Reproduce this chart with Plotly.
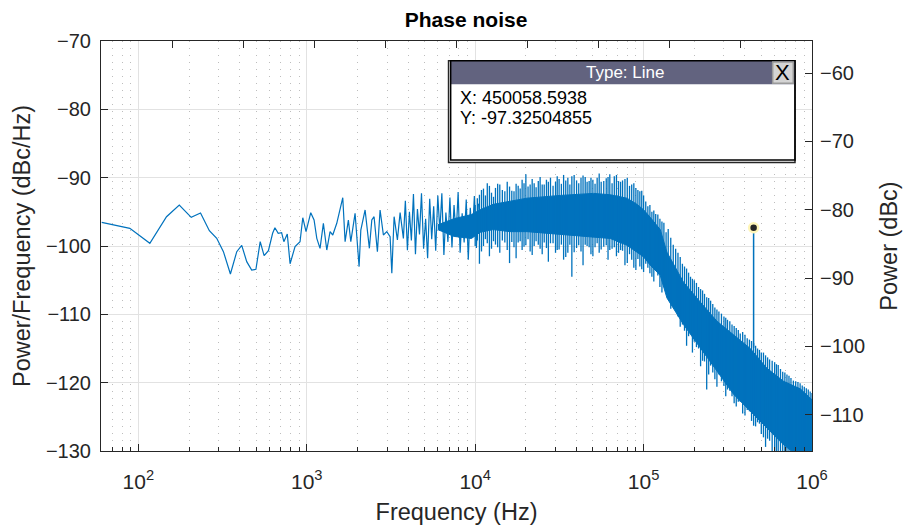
import plotly.graph_objects as go

# ---- spectrum, low-frequency part (individual bins, Hz / dBc/Hz) ----
low_f = [60.6, 89, 117, 147, 175, 206, 234, 264, 292, 320, 352, 384, 411, 440, 471, 499,
         529, 558, 592, 627, 647, 677, 709, 731, 766, 796, 852, 912, 947, 990, 1056, 1105,
         1147, 1199, 1255, 1315, 1375, 1427, 1507, 1636, 1689, 1766, 1826, 1936, 2045, 2094,
         2220, 2354, 2433, 2510, 2627, 2725, 2851, 2987, 3125, 3199, 3301, 3453, 3583, 3748,
         3850, 3960, 4070, 4180, 4300, 4420, 4540, 4670, 4800, 4940, 5080, 5220, 5370, 5520,
         5670, 5830, 6000, 6170, 6340, 6520, 6700, 6890, 7080, 7280, 7490, 7700, 7920, 8140,
         8370, 8600, 8850, 9100, 9350, 9620, 9890, 10170, 10450]
low_db = [-96.53, -97.41, -99.61, -95.71, -94.00, -95.80, -95.17, -97.76, -98.88, -100.83,
          -104.10, -100.83, -99.90, -102.29, -103.51, -103.41, -99.37, -101.42, -100.69, -98.14,
          -97.32, -98.14, -98.05, -99.37, -98.24, -102.6, -100.10, -99.37, -95.86, -97.90,
          -95.12, -96.20, -98.88, -100.34, -96.68, -100.59, -97.90, -98.39, -96.68, -92.93,
          -99.37, -96.20, -99.37, -95.22, -103.02, -97.66, -94.73, -100.34, -96.20, -95.71,
          -100.83, -94.73, -98.39, -97.90, -98.64, -104.00, -95.71, -99.12, -95.12, -98.88,
          -93.4, -100.6, -95.0, -99.2, -92.4, -101.2, -94.6, -98.3, -92.3, -100.4,
          -96.0, -101.8, -93.1, -99.0, -94.2, -100.7, -92.6, -97.8, -92.3, -101.3,
          -95.1, -99.4, -92.9, -100.2, -94.0, -98.6, -92.1, -101.0, -95.2, -99.5,
          -93.2, -102.0, -94.4, -98.7, -92.7, -100.3, -93.8]

# ---- dense part: solid core of the noise band ----
band_f = [6000, 7500, 9500, 10700, 12800, 16100, 20300, 32000, 50400, 63400, 79600,
          91300, 100000, 109500, 125600, 137600, 172700, 217000, 272700, 342200, 430000,
          540300, 678500, 852000, 1000000]
band_top = [-96.9, -96.0, -95.4, -94.7, -93.9, -93.5, -93.0, -92.6, -92.3, -92.5,
            -93.0, -93.9, -94.7, -95.8, -97.6, -100.9, -105.3, -108.2, -111.0, -113.0,
            -115.0, -117.9, -119.8, -120.9, -122.5]
band_bot = [-97.6, -98.6, -98.9, -98.0, -97.6, -97.9, -97.9, -98.4, -98.7, -98.9,
            -99.9, -100.9, -101.6, -102.8, -104.3, -107.6, -111.5, -114.9, -118.3, -121.7,
            -124.2, -126.6, -129.1, -131.0, -131.0]

# ---- dense part: per-column extremes (spikes), two interleaved sets ----
spike_f = [10000, 10600, 11200, 11800, 12500, 13200, 14000, 15000, 16000, 17000, 18000,
           19000, 20000, 21200, 22400, 23700, 25000, 26500, 28000, 30000, 31500, 33500,
           35500, 37500, 40000, 42500, 45000, 47500, 50000, 53000, 56000, 60000, 63000,
           67000, 71000, 75000, 80000, 85000, 90000, 95000, 100000, 106000, 112000, 118000,
           125000, 132000, 140000, 150000, 160000, 170000, 180000, 190000, 200000, 212000,
           224000, 237000, 250000, 265000, 280000, 300000, 315000, 335000, 355000, 375000,
           400000, 425000, 450000, 475000, 500000, 530000, 560000, 600000, 630000, 670000,
           710000, 750000, 800000, 850000, 900000, 950000, 1000000]
spike_hi = [-94.0, -92.5, -91.6, -90.8, -92.2, -91.5, -91.0, -92.0, -91.3, -92.0, -91.2,
            -90.3, -89.5, -91.0, -90.8, -90.5, -91.0, -90.3, -90.0, -90.6, -90.2, -89.6,
            -90.0, -89.8, -90.4, -90.0, -89.9, -90.5, -90.3, -90.0, -90.6, -90.1, -89.5,
            -89.8, -90.5, -90.4, -90.0, -91.0, -91.5, -92.0, -92.6, -94.2, -95.0, -95.3,
            -96.0, -96.6, -97.5, -99.8, -101.0, -102.6, -103.3, -104.5, -105.0, -106.0,
            -106.5, -107.5, -108.0, -109.0, -109.6, -110.3, -110.8, -111.5, -112.0, -112.8,
            -113.0, -113.7, -114.2, -115.0, -115.6, -116.0, -116.6, -117.0, -117.4, -118.4,
            -118.8, -119.3, -119.8, -120.1, -120.6, -121.0, -121.5]
spike_lo = [-100.0, -102.6, -100.0, -99.6, -100.4, -99.8, -101.0, -99.5, -102.5, -100.2, -99.5,
            -100.6, -99.9, -100.8, -100.0, -99.8, -101.2, -100.3, -99.6, -101.0, -100.5, -102.0,
            -101.0, -104.5, -100.3, -100.8, -99.8, -100.2, -101.5, -99.6, -100.5, -99.9, -100.6,
            -100.2, -101.0, -100.7, -102.5, -102.0, -103.5, -103.0, -103.8, -103.2, -104.5,
            -103.6, -106.0, -105.8, -107.5, -108.5, -110.3, -111.5, -114.6, -112.8, -114.0,
            -115.0, -116.8, -121.0, -117.5, -119.5, -118.8, -120.5, -121.0, -122.0, -123.5,
            -122.8, -124.8, -124.2, -126.3, -125.8, -127.5, -129.4, -128.5, -131.0, -131.0,
            -131.0, -131.0, -131.0, -131.0, -131.0, -131.0, -131.0, -131.0]

spike2_f = [10300, 10900, 11500, 12150, 12850, 13600, 14500, 15500, 16500, 17500, 18500,
            19500, 20600, 21800, 23000, 24300, 25700, 27200, 29000, 30700, 32500, 34500,
            36500, 38700, 41200, 43700, 46200, 48700, 51500, 54500, 58000, 61500, 65000,
            69000, 73000, 77500, 82500, 87500, 92500, 97500, 103000, 109000, 115000, 121500,
            128500, 136000, 145000, 155000, 165000, 175000, 185000, 195000, 206000, 218000,
            230000, 243500, 257500, 272500, 290000, 307500, 325000, 345000, 365000, 387500,
            412500, 437500, 462500, 487500, 515000, 545000, 580000, 615000, 650000, 690000,
            730000, 775000, 825000, 875000, 925000, 975000]
spike2_hi = [-93.0, -91.8, -92.6, -91.2, -92.8, -90.9, -91.8, -90.6, -91.9, -90.9, -91.6,
             -90.8, -91.3, -90.2, -91.4, -89.9, -91.0, -90.6, -91.2, -89.8, -90.9, -90.4,
             -91.0, -89.6, -90.8, -89.7, -90.6, -90.0, -90.9, -89.4, -90.5, -89.9, -90.8,
             -89.6, -90.6, -90.2, -91.2, -90.8, -91.8, -91.9, -93.5, -94.0, -94.8, -95.4,
             -96.4, -98.0, -98.8, -100.4, -101.6, -103.0, -103.9, -104.8, -105.4, -106.3,
             -107.0, -107.6, -108.5, -109.3, -109.9, -110.5, -111.0, -111.7, -112.3, -112.6,
             -113.5, -113.9, -114.6, -115.2, -115.6, -116.3, -116.8, -117.3, -118.0, -118.5,
             -119.0, -119.7, -119.9, -120.4, -120.8, -121.3]
spike2_lo = [-99.2, -100.8, -99.0, -101.5, -99.3, -100.2, -99.2, -100.6, -99.4, -101.8, -99.3,
             -100.1, -99.0, -101.3, -99.3, -100.4, -99.5, -102.3, -99.6, -100.6, -99.8, -101.6,
             -99.8, -100.9, -99.9, -102.8, -100.0, -101.2, -100.2, -101.0, -100.1, -102.0,
             -100.4, -101.5, -100.6, -102.8, -101.2, -103.2, -101.9, -103.4, -102.6, -104.0,
             -105.2, -104.3, -106.8, -106.6, -109.2, -109.0, -111.8, -112.4, -113.2, -115.6,
             -114.8, -117.6, -116.9, -118.8, -118.5, -120.6, -119.8, -122.0, -121.2, -123.0,
             -122.8, -124.5, -124.0, -125.6, -126.4, -126.0, -128.0, -128.2, -130.5, -131.0,
             -131.0, -131.0, -131.0, -131.0, -131.0, -131.0, -131.0, -131.0]

# ---- spur selected by the data tip ----
tip_f = 450058.5938
tip_db = -97.32504855
spur_f = [450029.3, tip_f, 450087.9]
spur_db = [-114.7, tip_db, -114.9]

# ---- axes ----
x_major = [1e2, 1e3, 1e4, 1e5, 1e6]
x_major_text = ["10<sup>2</sup>", "10<sup>3</sup>", "10<sup>4</sup>",
                "10<sup>5</sup>", "10<sup>6</sup>"]
x_minor = [m * 10 ** e for e in range(1, 6) for m in range(2, 10) if 60 <= m * 10 ** e < 1e6]
y_left_ticks = [-130, -120, -110, -100, -90, -80, -70]
y_right_ticks = [-110, -100, -90, -80, -70, -60]

BLUE = "#0072BD"
AX = "#262626"
FONT = "Liberation Sans, Arial, sans-serif"

fig = go.Figure()

fig.add_trace(go.Scatter(x=low_f, y=low_db, mode="lines",
                         line=dict(color=BLUE, width=1.2), hoverinfo="skip"))

fig.add_trace(go.Scatter(x=band_f + band_f[::-1], y=band_top + band_bot[::-1],
                         mode="lines", fill="toself", fillcolor=BLUE,
                         line=dict(color=BLUE, width=1), hoverinfo="skip"))


def columns(freqs, highs, lows):
    """Vertical min-max strokes, one per frequency column."""
    xs, ys = [], []
    for f, hi, lo in zip(freqs, highs, lows):
        xs += [f, f, None]
        ys += [hi, lo, None]
    return xs, ys


for cf, chi, clo in ((spike_f, spike_hi, spike_lo), (spike2_f, spike2_hi, spike2_lo)):
    sx, sy = columns(cf, chi, clo)
    fig.add_trace(go.Scatter(x=sx, y=sy, mode="lines",
                             line=dict(color=BLUE, width=1.3), hoverinfo="skip"))

fig.add_trace(go.Scatter(x=spur_f, y=spur_db, mode="lines",
                         line=dict(color=BLUE, width=1.5), hoverinfo="skip"))

fig.add_trace(go.Scatter(x=[tip_f], y=[tip_db], mode="markers",
                         marker=dict(size=9, color=AX,
                                     line=dict(color="#fff6b8", width=2.5)),
                         hoverinfo="skip"))

# companion axes: right-hand power scale and the top edge ticks
fig.add_trace(go.Scatter(x=[], y=[], xaxis="x2", yaxis="y2", hoverinfo="skip"))

ytick_font = dict(family=FONT, size=20, color=AX)
xtick_font = dict(family=FONT, size=21, color=AX)
title_font = dict(family=FONT, size=23.5, color=AX)

fig.update_layout(
    width=905, height=529,
    margin=dict(l=101, r=93, t=41, b=78),
    paper_bgcolor="white", plot_bgcolor="white",
    showlegend=False,
    title=dict(text="<b>Phase noise</b>", x=0.515, xanchor="center", y=0.963,
               yanchor="middle", font=dict(family=FONT, size=21, color="black")),
    xaxis=dict(type="log", range=[1.7782, 6.0], tickvals=x_major, ticktext=x_major_text,
               ticks="inside", ticklen=7, tickcolor=AX, tickwidth=1, automargin=False,
               showline=True, linecolor=AX, linewidth=1, mirror=False,
               showgrid=True, gridcolor="#e2e2e2", gridwidth=1, zeroline=False,
               tickfont=xtick_font, ticklabelstandoff=12,
               title=dict(text="Frequency (Hz)", font=title_font, standoff=11),
               minor=dict(tickvals=x_minor, ticks="inside", ticklen=4, tickcolor=AX,
                          showgrid=True, gridcolor="#bdbdbd", griddash="1px,6px",
                          gridwidth=1)),
    xaxis2=dict(overlaying="x", side="top", anchor="y2", range=[0, 1], dtick=0.1,
                ticks="inside", ticklen=7, tickcolor=AX, showticklabels=False,
                automargin=False, showline=True, linecolor=AX, linewidth=1,
                showgrid=False, zeroline=False),
    yaxis=dict(range=[-130, -70], tickvals=y_left_ticks, ticks="inside", ticklen=7,
               tickcolor=AX, showline=True, linecolor=AX, linewidth=1, automargin=False,
               showgrid=True, gridcolor="#e2e2e2", zeroline=False,
               tickfont=ytick_font, ticklabelstandoff=5,
               title=dict(text="Power/Frequency (dBc/Hz)", font=title_font, standoff=8)),
    yaxis2=dict(overlaying="y", side="right", anchor="x2", range=[-115.31, -55.31],
                tickvals=y_right_ticks, ticks="inside", ticklen=7, tickcolor=AX,
                automargin=False, showline=True, linecolor=AX, linewidth=1,
                showgrid=False, zeroline=False,
                tickfont=ytick_font, ticklabelstandoff=3,
                title=dict(text="Power (dBc)", font=title_font, standoff=16)),
)

# data-tip panel
px0, px1 = 0.4918, 0.9761
py0, py1, pyh = 0.7098, 0.952, 0.8944
fig.add_shape(type="rect", xref="paper", yref="paper", x0=px0 - 0.003, x1=px1,
              y0=py0 - 0.006, y1=py1, line=dict(color=AX, width=1.5), fillcolor="white")
fig.add_shape(type="rect", xref="paper", yref="paper", x0=px0, x1=px1, y0=pyh, y1=py1,
              line=dict(width=0), fillcolor="#62637f")
fig.add_shape(type="rect", xref="paper", yref="paper", x0=px0, x1=px1, y0=py0, y1=py1,
              line=dict(color="black", width=1.5), fillcolor="rgba(0,0,0,0)")
fig.add_shape(type="rect", xref="paper", yref="paper", x0=0.9447, x1=0.9737,
              y0=0.897, y1=0.949, line=dict(color="#9a9a9a", width=1.5), fillcolor="#d4d4d4")
fig.add_annotation(xref="paper", yref="paper", x=0.737, y=0.923, xanchor="center",
                   yanchor="middle", text="Type: Line", showarrow=False,
                   font=dict(family=FONT, size=17, color="white"))
fig.add_annotation(xref="paper", yref="paper", x=0.9592, y=0.922, xanchor="center",
                   yanchor="middle", text="X", showarrow=False,
                   font=dict(family=FONT, size=22, color="black"))
fig.add_annotation(xref="paper", yref="paper", x=0.502, y=0.8617, xanchor="left",
                   yanchor="middle", text="X: 450058.5938", showarrow=False,
                   font=dict(family=FONT, size=18, color="black"))
fig.add_annotation(xref="paper", yref="paper", x=0.502, y=0.8115, xanchor="left",
                   yanchor="middle", text="Y: -97.32504855", showarrow=False,
                   font=dict(family=FONT, size=18, color="black"))

fig.write_html("out.html")
